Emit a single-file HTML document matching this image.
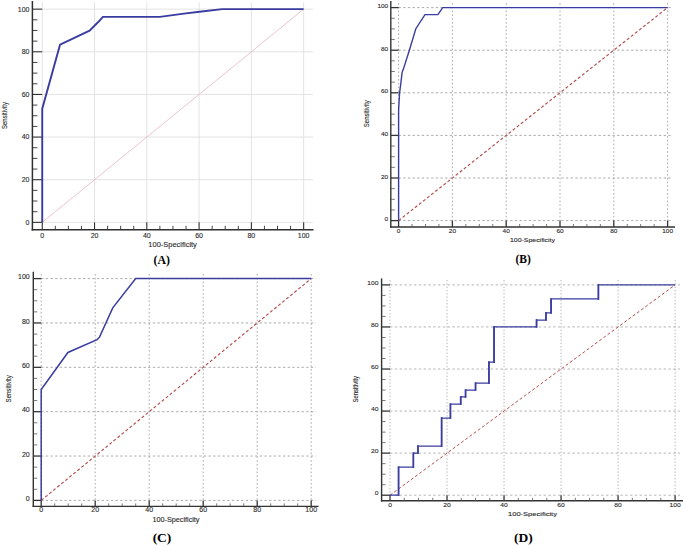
<!DOCTYPE html>
<html><head><meta charset="utf-8"><title>ROC curves</title>
<style>
html,body{margin:0;padding:0;background:#fff;}
body{width:685px;height:545px;overflow:hidden;}
svg{display:block;font-family:"Liberation Sans", sans-serif;}
text{stroke:#333;stroke-width:0.12px;paint-order:stroke;}
text.lab{stroke:none;}
</style></head>
<body>
<svg width="685" height="545" viewBox="0 0 685 545">
<rect width="685" height="545" fill="#fff"/>
<line x1="42.25" y1="222.35" x2="313" y2="222.35" stroke="#e0e0e0" stroke-width="0.9"/>
<line x1="42.25" y1="2.3" x2="42.25" y2="222.35" stroke="#e0e0e0" stroke-width="0.9"/>
<line x1="42.25" y1="179.71" x2="313" y2="179.71" stroke="#e0e0e0" stroke-width="0.9"/>
<line x1="94.53" y1="2.3" x2="94.53" y2="222.35" stroke="#e0e0e0" stroke-width="0.9"/>
<line x1="42.25" y1="137.07" x2="313" y2="137.07" stroke="#e0e0e0" stroke-width="0.9"/>
<line x1="146.81" y1="2.3" x2="146.81" y2="222.35" stroke="#e0e0e0" stroke-width="0.9"/>
<line x1="42.25" y1="94.43" x2="313" y2="94.43" stroke="#e0e0e0" stroke-width="0.9"/>
<line x1="199.09" y1="2.3" x2="199.09" y2="222.35" stroke="#e0e0e0" stroke-width="0.9"/>
<line x1="42.25" y1="51.79" x2="313" y2="51.79" stroke="#e0e0e0" stroke-width="0.9"/>
<line x1="251.37" y1="2.3" x2="251.37" y2="222.35" stroke="#e0e0e0" stroke-width="0.9"/>
<line x1="42.25" y1="9.15" x2="313" y2="9.15" stroke="#e0e0e0" stroke-width="0.9"/>
<line x1="303.65" y1="2.3" x2="303.65" y2="222.35" stroke="#e0e0e0" stroke-width="0.9"/>
<line x1="42.25" y1="222.35" x2="303.65" y2="9.15" stroke="#e6b6bc" stroke-width="0.8"/>
<line x1="32.4" y1="1" x2="32.4" y2="230.55" stroke="#2f2f2f" stroke-width="1.5"/>
<line x1="31.65" y1="229.8" x2="313.5" y2="229.8" stroke="#2f2f2f" stroke-width="1.5"/>
<line x1="32.4" y1="222.35" x2="42.25" y2="222.35" stroke="#2f2f2f" stroke-width="1.1"/>
<line x1="42.25" y1="229.8" x2="42.25" y2="222.35" stroke="#2f2f2f" stroke-width="1.1"/>
<line x1="32.4" y1="211.69" x2="37.4" y2="211.69" stroke="#2f2f2f" stroke-width="0.9"/>
<line x1="55.32" y1="229.8" x2="55.32" y2="225.8" stroke="#2f2f2f" stroke-width="0.9"/>
<line x1="32.4" y1="201.03" x2="37.4" y2="201.03" stroke="#2f2f2f" stroke-width="0.9"/>
<line x1="68.39" y1="229.8" x2="68.39" y2="225.8" stroke="#2f2f2f" stroke-width="0.9"/>
<line x1="32.4" y1="190.37" x2="37.4" y2="190.37" stroke="#2f2f2f" stroke-width="0.9"/>
<line x1="81.46" y1="229.8" x2="81.46" y2="225.8" stroke="#2f2f2f" stroke-width="0.9"/>
<line x1="32.4" y1="179.71" x2="42.25" y2="179.71" stroke="#2f2f2f" stroke-width="1.1"/>
<line x1="94.53" y1="229.8" x2="94.53" y2="222.35" stroke="#2f2f2f" stroke-width="1.1"/>
<line x1="32.4" y1="169.05" x2="37.4" y2="169.05" stroke="#2f2f2f" stroke-width="0.9"/>
<line x1="107.6" y1="229.8" x2="107.6" y2="225.8" stroke="#2f2f2f" stroke-width="0.9"/>
<line x1="32.4" y1="158.39" x2="37.4" y2="158.39" stroke="#2f2f2f" stroke-width="0.9"/>
<line x1="120.67" y1="229.8" x2="120.67" y2="225.8" stroke="#2f2f2f" stroke-width="0.9"/>
<line x1="32.4" y1="147.73" x2="37.4" y2="147.73" stroke="#2f2f2f" stroke-width="0.9"/>
<line x1="133.74" y1="229.8" x2="133.74" y2="225.8" stroke="#2f2f2f" stroke-width="0.9"/>
<line x1="32.4" y1="137.07" x2="42.25" y2="137.07" stroke="#2f2f2f" stroke-width="1.1"/>
<line x1="146.81" y1="229.8" x2="146.81" y2="222.35" stroke="#2f2f2f" stroke-width="1.1"/>
<line x1="32.4" y1="126.41" x2="37.4" y2="126.41" stroke="#2f2f2f" stroke-width="0.9"/>
<line x1="159.88" y1="229.8" x2="159.88" y2="225.8" stroke="#2f2f2f" stroke-width="0.9"/>
<line x1="32.4" y1="115.75" x2="37.4" y2="115.75" stroke="#2f2f2f" stroke-width="0.9"/>
<line x1="172.95" y1="229.8" x2="172.95" y2="225.8" stroke="#2f2f2f" stroke-width="0.9"/>
<line x1="32.4" y1="105.09" x2="37.4" y2="105.09" stroke="#2f2f2f" stroke-width="0.9"/>
<line x1="186.02" y1="229.8" x2="186.02" y2="225.8" stroke="#2f2f2f" stroke-width="0.9"/>
<line x1="32.4" y1="94.43" x2="42.25" y2="94.43" stroke="#2f2f2f" stroke-width="1.1"/>
<line x1="199.09" y1="229.8" x2="199.09" y2="222.35" stroke="#2f2f2f" stroke-width="1.1"/>
<line x1="32.4" y1="83.77" x2="37.4" y2="83.77" stroke="#2f2f2f" stroke-width="0.9"/>
<line x1="212.16" y1="229.8" x2="212.16" y2="225.8" stroke="#2f2f2f" stroke-width="0.9"/>
<line x1="32.4" y1="73.11" x2="37.4" y2="73.11" stroke="#2f2f2f" stroke-width="0.9"/>
<line x1="225.23" y1="229.8" x2="225.23" y2="225.8" stroke="#2f2f2f" stroke-width="0.9"/>
<line x1="32.4" y1="62.45" x2="37.4" y2="62.45" stroke="#2f2f2f" stroke-width="0.9"/>
<line x1="238.3" y1="229.8" x2="238.3" y2="225.8" stroke="#2f2f2f" stroke-width="0.9"/>
<line x1="32.4" y1="51.79" x2="42.25" y2="51.79" stroke="#2f2f2f" stroke-width="1.1"/>
<line x1="251.37" y1="229.8" x2="251.37" y2="222.35" stroke="#2f2f2f" stroke-width="1.1"/>
<line x1="32.4" y1="41.13" x2="37.4" y2="41.13" stroke="#2f2f2f" stroke-width="0.9"/>
<line x1="264.44" y1="229.8" x2="264.44" y2="225.8" stroke="#2f2f2f" stroke-width="0.9"/>
<line x1="32.4" y1="30.47" x2="37.4" y2="30.47" stroke="#2f2f2f" stroke-width="0.9"/>
<line x1="277.51" y1="229.8" x2="277.51" y2="225.8" stroke="#2f2f2f" stroke-width="0.9"/>
<line x1="32.4" y1="19.81" x2="37.4" y2="19.81" stroke="#2f2f2f" stroke-width="0.9"/>
<line x1="290.58" y1="229.8" x2="290.58" y2="225.8" stroke="#2f2f2f" stroke-width="0.9"/>
<line x1="32.4" y1="9.15" x2="42.25" y2="9.15" stroke="#2f2f2f" stroke-width="1.1"/>
<line x1="303.65" y1="229.8" x2="303.65" y2="222.35" stroke="#2f2f2f" stroke-width="1.1"/>
<polyline points="42.25,222.35 42.25,108.71 60.03,44.75 89.56,30.68 98.71,21.52 102.89,16.83 159.88,16.83 183.93,13.63 199.61,11.71 222.09,9.15 303.65,9.15" fill="none" stroke="#3a3d9f" stroke-width="1.9" stroke-linejoin="miter" stroke-linecap="butt"/>
<text transform="translate(29.5 224.75) scale(1 1)" text-anchor="end" font-size="7" fill="#2a2a2a">0</text>
<text transform="translate(42.25 238.2) scale(1 1)" text-anchor="middle" font-size="7" fill="#2a2a2a">0</text>
<text transform="translate(29.5 182.11) scale(1 1)" text-anchor="end" font-size="7" fill="#2a2a2a">20</text>
<text transform="translate(94.53 238.2) scale(1 1)" text-anchor="middle" font-size="7" fill="#2a2a2a">20</text>
<text transform="translate(29.5 139.47) scale(1 1)" text-anchor="end" font-size="7" fill="#2a2a2a">40</text>
<text transform="translate(146.81 238.2) scale(1 1)" text-anchor="middle" font-size="7" fill="#2a2a2a">40</text>
<text transform="translate(29.5 96.83) scale(1 1)" text-anchor="end" font-size="7" fill="#2a2a2a">60</text>
<text transform="translate(199.09 238.2) scale(1 1)" text-anchor="middle" font-size="7" fill="#2a2a2a">60</text>
<text transform="translate(29.5 54.19) scale(1 1)" text-anchor="end" font-size="7" fill="#2a2a2a">80</text>
<text transform="translate(251.37 238.2) scale(1 1)" text-anchor="middle" font-size="7" fill="#2a2a2a">80</text>
<text transform="translate(29.5 11.55) scale(1 1)" text-anchor="end" font-size="7" fill="#2a2a2a">100</text>
<text transform="translate(303.65 238.2) scale(1 1)" text-anchor="middle" font-size="7" fill="#2a2a2a">100</text>
<text x="172.6" y="246.8" text-anchor="middle" font-size="7" fill="#2a2a2a" textLength="48.5" lengthAdjust="spacingAndGlyphs">100-Specificity</text>
<text transform="translate(7.1 115.5) rotate(-90)" text-anchor="middle" font-size="7.5" fill="#2a2a2a" textLength="27" lengthAdjust="spacingAndGlyphs">Sensitivity</text>
<text class="lab" x="161.8" y="263.6" text-anchor="middle" font-family='"Liberation Serif", serif' font-weight="bold" font-size="11.8" fill="#000">(A)</text>
<line x1="398.6" y1="220.6" x2="672" y2="220.6" stroke="#a0a0a0" stroke-width="0.9" stroke-dasharray="2.3 2.35"/>
<line x1="398.6" y1="3" x2="398.6" y2="220.6" stroke="#a0a0a0" stroke-width="0.9" stroke-dasharray="1.6 2.2"/>
<line x1="398.6" y1="178" x2="672" y2="178" stroke="#a0a0a0" stroke-width="0.9" stroke-dasharray="2.3 2.35"/>
<line x1="452.4" y1="3" x2="452.4" y2="220.6" stroke="#a0a0a0" stroke-width="0.9" stroke-dasharray="1.6 2.2"/>
<line x1="398.6" y1="135.4" x2="672" y2="135.4" stroke="#a0a0a0" stroke-width="0.9" stroke-dasharray="2.3 2.35"/>
<line x1="506.2" y1="3" x2="506.2" y2="220.6" stroke="#a0a0a0" stroke-width="0.9" stroke-dasharray="1.6 2.2"/>
<line x1="398.6" y1="92.8" x2="672" y2="92.8" stroke="#a0a0a0" stroke-width="0.9" stroke-dasharray="2.3 2.35"/>
<line x1="560" y1="3" x2="560" y2="220.6" stroke="#a0a0a0" stroke-width="0.9" stroke-dasharray="1.6 2.2"/>
<line x1="398.6" y1="50.2" x2="672" y2="50.2" stroke="#a0a0a0" stroke-width="0.9" stroke-dasharray="2.3 2.35"/>
<line x1="613.8" y1="3" x2="613.8" y2="220.6" stroke="#a0a0a0" stroke-width="0.9" stroke-dasharray="1.6 2.2"/>
<line x1="398.6" y1="7.6" x2="672" y2="7.6" stroke="#a0a0a0" stroke-width="0.9" stroke-dasharray="2.3 2.35"/>
<line x1="667.6" y1="3" x2="667.6" y2="220.6" stroke="#a0a0a0" stroke-width="0.9" stroke-dasharray="1.6 2.2"/>
<line x1="398.6" y1="220.6" x2="667.6" y2="7.6" stroke="#b44c4c" stroke-width="1.15" stroke-dasharray="3 2.2"/>
<line x1="390.8" y1="1" x2="390.8" y2="227.7" stroke="#333" stroke-width="1.4"/>
<line x1="390.1" y1="227" x2="675" y2="227" stroke="#333" stroke-width="1.4"/>
<line x1="390.8" y1="220.6" x2="398.6" y2="220.6" stroke="#333" stroke-width="1.3"/>
<line x1="398.6" y1="227" x2="398.6" y2="220.6" stroke="#333" stroke-width="1.3"/>
<line x1="390.8" y1="209.95" x2="394.8" y2="209.95" stroke="#555" stroke-width="0.8"/>
<line x1="412.05" y1="227" x2="412.05" y2="224" stroke="#555" stroke-width="0.8"/>
<line x1="390.8" y1="199.3" x2="394.8" y2="199.3" stroke="#555" stroke-width="0.8"/>
<line x1="425.5" y1="227" x2="425.5" y2="224" stroke="#555" stroke-width="0.8"/>
<line x1="390.8" y1="188.65" x2="394.8" y2="188.65" stroke="#555" stroke-width="0.8"/>
<line x1="438.95" y1="227" x2="438.95" y2="224" stroke="#555" stroke-width="0.8"/>
<line x1="390.8" y1="178" x2="398.6" y2="178" stroke="#333" stroke-width="1.3"/>
<line x1="452.4" y1="227" x2="452.4" y2="220.6" stroke="#333" stroke-width="1.3"/>
<line x1="390.8" y1="167.35" x2="394.8" y2="167.35" stroke="#555" stroke-width="0.8"/>
<line x1="465.85" y1="227" x2="465.85" y2="224" stroke="#555" stroke-width="0.8"/>
<line x1="390.8" y1="156.7" x2="394.8" y2="156.7" stroke="#555" stroke-width="0.8"/>
<line x1="479.3" y1="227" x2="479.3" y2="224" stroke="#555" stroke-width="0.8"/>
<line x1="390.8" y1="146.05" x2="394.8" y2="146.05" stroke="#555" stroke-width="0.8"/>
<line x1="492.75" y1="227" x2="492.75" y2="224" stroke="#555" stroke-width="0.8"/>
<line x1="390.8" y1="135.4" x2="398.6" y2="135.4" stroke="#333" stroke-width="1.3"/>
<line x1="506.2" y1="227" x2="506.2" y2="220.6" stroke="#333" stroke-width="1.3"/>
<line x1="390.8" y1="124.75" x2="394.8" y2="124.75" stroke="#555" stroke-width="0.8"/>
<line x1="519.65" y1="227" x2="519.65" y2="224" stroke="#555" stroke-width="0.8"/>
<line x1="390.8" y1="114.1" x2="394.8" y2="114.1" stroke="#555" stroke-width="0.8"/>
<line x1="533.1" y1="227" x2="533.1" y2="224" stroke="#555" stroke-width="0.8"/>
<line x1="390.8" y1="103.45" x2="394.8" y2="103.45" stroke="#555" stroke-width="0.8"/>
<line x1="546.55" y1="227" x2="546.55" y2="224" stroke="#555" stroke-width="0.8"/>
<line x1="390.8" y1="92.8" x2="398.6" y2="92.8" stroke="#333" stroke-width="1.3"/>
<line x1="560" y1="227" x2="560" y2="220.6" stroke="#333" stroke-width="1.3"/>
<line x1="390.8" y1="82.15" x2="394.8" y2="82.15" stroke="#555" stroke-width="0.8"/>
<line x1="573.45" y1="227" x2="573.45" y2="224" stroke="#555" stroke-width="0.8"/>
<line x1="390.8" y1="71.5" x2="394.8" y2="71.5" stroke="#555" stroke-width="0.8"/>
<line x1="586.9" y1="227" x2="586.9" y2="224" stroke="#555" stroke-width="0.8"/>
<line x1="390.8" y1="60.85" x2="394.8" y2="60.85" stroke="#555" stroke-width="0.8"/>
<line x1="600.35" y1="227" x2="600.35" y2="224" stroke="#555" stroke-width="0.8"/>
<line x1="390.8" y1="50.2" x2="398.6" y2="50.2" stroke="#333" stroke-width="1.3"/>
<line x1="613.8" y1="227" x2="613.8" y2="220.6" stroke="#333" stroke-width="1.3"/>
<line x1="390.8" y1="39.55" x2="394.8" y2="39.55" stroke="#555" stroke-width="0.8"/>
<line x1="627.25" y1="227" x2="627.25" y2="224" stroke="#555" stroke-width="0.8"/>
<line x1="390.8" y1="28.9" x2="394.8" y2="28.9" stroke="#555" stroke-width="0.8"/>
<line x1="640.7" y1="227" x2="640.7" y2="224" stroke="#555" stroke-width="0.8"/>
<line x1="390.8" y1="18.25" x2="394.8" y2="18.25" stroke="#555" stroke-width="0.8"/>
<line x1="654.15" y1="227" x2="654.15" y2="224" stroke="#555" stroke-width="0.8"/>
<line x1="390.8" y1="7.6" x2="398.6" y2="7.6" stroke="#333" stroke-width="1.3"/>
<line x1="667.6" y1="227" x2="667.6" y2="220.6" stroke="#333" stroke-width="1.3"/>
<polyline points="398.6,220.6 398.6,109.84 399.6,92.8 400.91,82.58 402.1,72.35 403.31,69.37 409.36,50.2 415.82,28.69 424.96,14.63 437.87,14.63 442.72,7.6 667.6,7.6" fill="none" stroke="#3a3d9f" stroke-width="1.4" stroke-linejoin="miter" stroke-linecap="butt"/>
<text transform="translate(388.2 221.2) scale(1.08 1)" text-anchor="end" font-size="6" fill="#2a2a2a">0</text>
<text transform="translate(398.6 233.2) scale(1.08 1)" text-anchor="middle" font-size="6" fill="#2a2a2a">0</text>
<text transform="translate(388.2 178.6) scale(1.08 1)" text-anchor="end" font-size="6" fill="#2a2a2a">20</text>
<text transform="translate(452.4 233.2) scale(1.08 1)" text-anchor="middle" font-size="6" fill="#2a2a2a">20</text>
<text transform="translate(388.2 136) scale(1.08 1)" text-anchor="end" font-size="6" fill="#2a2a2a">40</text>
<text transform="translate(506.2 233.2) scale(1.08 1)" text-anchor="middle" font-size="6" fill="#2a2a2a">40</text>
<text transform="translate(388.2 93.4) scale(1.08 1)" text-anchor="end" font-size="6" fill="#2a2a2a">60</text>
<text transform="translate(560 233.2) scale(1.08 1)" text-anchor="middle" font-size="6" fill="#2a2a2a">60</text>
<text transform="translate(388.2 50.8) scale(1.08 1)" text-anchor="end" font-size="6" fill="#2a2a2a">80</text>
<text transform="translate(613.8 233.2) scale(1.08 1)" text-anchor="middle" font-size="6" fill="#2a2a2a">80</text>
<text transform="translate(388.2 8.2) scale(1.08 1)" text-anchor="end" font-size="6" fill="#2a2a2a">100</text>
<text transform="translate(667.6 233.2) scale(1.08 1)" text-anchor="middle" font-size="6" fill="#2a2a2a">100</text>
<text x="532.5" y="242" text-anchor="middle" font-size="6" fill="#2a2a2a" textLength="45" lengthAdjust="spacingAndGlyphs">100-Specificity</text>
<text transform="translate(369.3 113.7) rotate(-90)" text-anchor="middle" font-size="7.5" fill="#2a2a2a" textLength="27" lengthAdjust="spacingAndGlyphs">Sensitivity</text>
<text class="lab" x="523.2" y="263.4" text-anchor="middle" font-family='"Liberation Serif", serif' font-weight="bold" font-size="11.5" fill="#000">(B)</text>
<line x1="41.2" y1="500.4" x2="316" y2="500.4" stroke="#a0a0a0" stroke-width="0.9" stroke-dasharray="2.3 2.35"/>
<line x1="41.2" y1="274" x2="41.2" y2="500.4" stroke="#a0a0a0" stroke-width="0.9" stroke-dasharray="1.6 2.2"/>
<line x1="41.2" y1="456.04" x2="316" y2="456.04" stroke="#a0a0a0" stroke-width="0.9" stroke-dasharray="2.3 2.35"/>
<line x1="95.2" y1="274" x2="95.2" y2="500.4" stroke="#a0a0a0" stroke-width="0.9" stroke-dasharray="1.6 2.2"/>
<line x1="41.2" y1="411.68" x2="316" y2="411.68" stroke="#a0a0a0" stroke-width="0.9" stroke-dasharray="2.3 2.35"/>
<line x1="149.2" y1="274" x2="149.2" y2="500.4" stroke="#a0a0a0" stroke-width="0.9" stroke-dasharray="1.6 2.2"/>
<line x1="41.2" y1="367.32" x2="316" y2="367.32" stroke="#a0a0a0" stroke-width="0.9" stroke-dasharray="2.3 2.35"/>
<line x1="203.2" y1="274" x2="203.2" y2="500.4" stroke="#a0a0a0" stroke-width="0.9" stroke-dasharray="1.6 2.2"/>
<line x1="41.2" y1="322.96" x2="316" y2="322.96" stroke="#a0a0a0" stroke-width="0.9" stroke-dasharray="2.3 2.35"/>
<line x1="257.2" y1="274" x2="257.2" y2="500.4" stroke="#a0a0a0" stroke-width="0.9" stroke-dasharray="1.6 2.2"/>
<line x1="41.2" y1="278.6" x2="316" y2="278.6" stroke="#a0a0a0" stroke-width="0.9" stroke-dasharray="2.3 2.35"/>
<line x1="311.2" y1="274" x2="311.2" y2="500.4" stroke="#a0a0a0" stroke-width="0.9" stroke-dasharray="1.6 2.2"/>
<line x1="41.2" y1="500.4" x2="311.2" y2="278.6" stroke="#b44c4c" stroke-width="1.15" stroke-dasharray="3 2.2"/>
<line x1="33.3" y1="271.8" x2="33.3" y2="507.1" stroke="#333" stroke-width="1.4"/>
<line x1="32.6" y1="506.4" x2="318.5" y2="506.4" stroke="#333" stroke-width="1.4"/>
<line x1="33.3" y1="500.4" x2="41.2" y2="500.4" stroke="#333" stroke-width="1.3"/>
<line x1="41.2" y1="506.4" x2="41.2" y2="500.4" stroke="#333" stroke-width="1.3"/>
<line x1="33.3" y1="489.31" x2="37.3" y2="489.31" stroke="#555" stroke-width="0.8"/>
<line x1="54.7" y1="506.4" x2="54.7" y2="503.4" stroke="#555" stroke-width="0.8"/>
<line x1="33.3" y1="478.22" x2="37.3" y2="478.22" stroke="#555" stroke-width="0.8"/>
<line x1="68.2" y1="506.4" x2="68.2" y2="503.4" stroke="#555" stroke-width="0.8"/>
<line x1="33.3" y1="467.13" x2="37.3" y2="467.13" stroke="#555" stroke-width="0.8"/>
<line x1="81.7" y1="506.4" x2="81.7" y2="503.4" stroke="#555" stroke-width="0.8"/>
<line x1="33.3" y1="456.04" x2="41.2" y2="456.04" stroke="#333" stroke-width="1.3"/>
<line x1="95.2" y1="506.4" x2="95.2" y2="500.4" stroke="#333" stroke-width="1.3"/>
<line x1="33.3" y1="444.95" x2="37.3" y2="444.95" stroke="#555" stroke-width="0.8"/>
<line x1="108.7" y1="506.4" x2="108.7" y2="503.4" stroke="#555" stroke-width="0.8"/>
<line x1="33.3" y1="433.86" x2="37.3" y2="433.86" stroke="#555" stroke-width="0.8"/>
<line x1="122.2" y1="506.4" x2="122.2" y2="503.4" stroke="#555" stroke-width="0.8"/>
<line x1="33.3" y1="422.77" x2="37.3" y2="422.77" stroke="#555" stroke-width="0.8"/>
<line x1="135.7" y1="506.4" x2="135.7" y2="503.4" stroke="#555" stroke-width="0.8"/>
<line x1="33.3" y1="411.68" x2="41.2" y2="411.68" stroke="#333" stroke-width="1.3"/>
<line x1="149.2" y1="506.4" x2="149.2" y2="500.4" stroke="#333" stroke-width="1.3"/>
<line x1="33.3" y1="400.59" x2="37.3" y2="400.59" stroke="#555" stroke-width="0.8"/>
<line x1="162.7" y1="506.4" x2="162.7" y2="503.4" stroke="#555" stroke-width="0.8"/>
<line x1="33.3" y1="389.5" x2="37.3" y2="389.5" stroke="#555" stroke-width="0.8"/>
<line x1="176.2" y1="506.4" x2="176.2" y2="503.4" stroke="#555" stroke-width="0.8"/>
<line x1="33.3" y1="378.41" x2="37.3" y2="378.41" stroke="#555" stroke-width="0.8"/>
<line x1="189.7" y1="506.4" x2="189.7" y2="503.4" stroke="#555" stroke-width="0.8"/>
<line x1="33.3" y1="367.32" x2="41.2" y2="367.32" stroke="#333" stroke-width="1.3"/>
<line x1="203.2" y1="506.4" x2="203.2" y2="500.4" stroke="#333" stroke-width="1.3"/>
<line x1="33.3" y1="356.23" x2="37.3" y2="356.23" stroke="#555" stroke-width="0.8"/>
<line x1="216.7" y1="506.4" x2="216.7" y2="503.4" stroke="#555" stroke-width="0.8"/>
<line x1="33.3" y1="345.14" x2="37.3" y2="345.14" stroke="#555" stroke-width="0.8"/>
<line x1="230.2" y1="506.4" x2="230.2" y2="503.4" stroke="#555" stroke-width="0.8"/>
<line x1="33.3" y1="334.05" x2="37.3" y2="334.05" stroke="#555" stroke-width="0.8"/>
<line x1="243.7" y1="506.4" x2="243.7" y2="503.4" stroke="#555" stroke-width="0.8"/>
<line x1="33.3" y1="322.96" x2="41.2" y2="322.96" stroke="#333" stroke-width="1.3"/>
<line x1="257.2" y1="506.4" x2="257.2" y2="500.4" stroke="#333" stroke-width="1.3"/>
<line x1="33.3" y1="311.87" x2="37.3" y2="311.87" stroke="#555" stroke-width="0.8"/>
<line x1="270.7" y1="506.4" x2="270.7" y2="503.4" stroke="#555" stroke-width="0.8"/>
<line x1="33.3" y1="300.78" x2="37.3" y2="300.78" stroke="#555" stroke-width="0.8"/>
<line x1="284.2" y1="506.4" x2="284.2" y2="503.4" stroke="#555" stroke-width="0.8"/>
<line x1="33.3" y1="289.69" x2="37.3" y2="289.69" stroke="#555" stroke-width="0.8"/>
<line x1="297.7" y1="506.4" x2="297.7" y2="503.4" stroke="#555" stroke-width="0.8"/>
<line x1="33.3" y1="278.6" x2="41.2" y2="278.6" stroke="#333" stroke-width="1.3"/>
<line x1="311.2" y1="506.4" x2="311.2" y2="500.4" stroke="#333" stroke-width="1.3"/>
<polyline points="41.2,500.4 41.2,389.5 67.93,352.46 97.09,339.59 99.52,337.16 112.75,307.88 135.7,278.6 311.2,278.6" fill="none" stroke="#3a3d9f" stroke-width="1.5" stroke-linejoin="miter" stroke-linecap="butt"/>
<text transform="translate(29.7 501.2) scale(1 1)" text-anchor="end" font-size="7" fill="#2a2a2a">0</text>
<text transform="translate(41.2 512.4) scale(1 1)" text-anchor="middle" font-size="7" fill="#2a2a2a">0</text>
<text transform="translate(29.7 456.84) scale(1 1)" text-anchor="end" font-size="7" fill="#2a2a2a">20</text>
<text transform="translate(95.2 512.4) scale(1 1)" text-anchor="middle" font-size="7" fill="#2a2a2a">20</text>
<text transform="translate(29.7 412.48) scale(1 1)" text-anchor="end" font-size="7" fill="#2a2a2a">40</text>
<text transform="translate(149.2 512.4) scale(1 1)" text-anchor="middle" font-size="7" fill="#2a2a2a">40</text>
<text transform="translate(29.7 368.12) scale(1 1)" text-anchor="end" font-size="7" fill="#2a2a2a">60</text>
<text transform="translate(203.2 512.4) scale(1 1)" text-anchor="middle" font-size="7" fill="#2a2a2a">60</text>
<text transform="translate(29.7 323.76) scale(1 1)" text-anchor="end" font-size="7" fill="#2a2a2a">80</text>
<text transform="translate(257.2 512.4) scale(1 1)" text-anchor="middle" font-size="7" fill="#2a2a2a">80</text>
<text transform="translate(29.7 279.4) scale(1 1)" text-anchor="end" font-size="7" fill="#2a2a2a">100</text>
<text transform="translate(311.2 512.4) scale(1 1)" text-anchor="middle" font-size="7" fill="#2a2a2a">100</text>
<text x="176" y="522" text-anchor="middle" font-size="6.5" fill="#2a2a2a" textLength="47" lengthAdjust="spacingAndGlyphs">100-Specificity</text>
<text transform="translate(11 388.8) rotate(-90)" text-anchor="middle" font-size="7.5" fill="#2a2a2a" textLength="27.2" lengthAdjust="spacingAndGlyphs">Sensitivity</text>
<text class="lab" x="162" y="541.5" text-anchor="middle" font-family='"Liberation Serif", serif' font-weight="bold" font-size="13.5" fill="#000">(C)</text>
<line x1="390" y1="495.2" x2="680" y2="495.2" stroke="#adadad" stroke-width="0.9" stroke-dasharray="2.4 2.4"/>
<line x1="390" y1="280" x2="390" y2="495.2" stroke="#adadad" stroke-width="0.9" stroke-dasharray="1.4 1.9"/>
<line x1="390" y1="453.14" x2="680" y2="453.14" stroke="#adadad" stroke-width="0.9" stroke-dasharray="2.4 2.4"/>
<line x1="447.02" y1="280" x2="447.02" y2="495.2" stroke="#adadad" stroke-width="0.9" stroke-dasharray="1.4 1.9"/>
<line x1="390" y1="411.08" x2="680" y2="411.08" stroke="#adadad" stroke-width="0.9" stroke-dasharray="2.4 2.4"/>
<line x1="504.04" y1="280" x2="504.04" y2="495.2" stroke="#adadad" stroke-width="0.9" stroke-dasharray="1.4 1.9"/>
<line x1="390" y1="369.02" x2="680" y2="369.02" stroke="#adadad" stroke-width="0.9" stroke-dasharray="2.4 2.4"/>
<line x1="561.06" y1="280" x2="561.06" y2="495.2" stroke="#adadad" stroke-width="0.9" stroke-dasharray="1.4 1.9"/>
<line x1="390" y1="326.96" x2="680" y2="326.96" stroke="#adadad" stroke-width="0.9" stroke-dasharray="2.4 2.4"/>
<line x1="618.08" y1="280" x2="618.08" y2="495.2" stroke="#adadad" stroke-width="0.9" stroke-dasharray="1.4 1.9"/>
<line x1="390" y1="284.9" x2="680" y2="284.9" stroke="#adadad" stroke-width="0.9" stroke-dasharray="2.4 2.4"/>
<line x1="675.1" y1="280" x2="675.1" y2="495.2" stroke="#adadad" stroke-width="0.9" stroke-dasharray="1.4 1.9"/>
<line x1="390" y1="495.2" x2="675.1" y2="284.9" stroke="#b85050" stroke-width="1.0" stroke-dasharray="3 2.2"/>
<line x1="381.6" y1="278.4" x2="381.6" y2="501.5" stroke="#333" stroke-width="1.4"/>
<line x1="380.9" y1="500.8" x2="683" y2="500.8" stroke="#333" stroke-width="1.4"/>
<line x1="381.6" y1="495.2" x2="390" y2="495.2" stroke="#333" stroke-width="1.3"/>
<line x1="390" y1="500.8" x2="390" y2="495.2" stroke="#333" stroke-width="1.3"/>
<line x1="381.6" y1="484.69" x2="385.6" y2="484.69" stroke="#555" stroke-width="0.8"/>
<line x1="404.25" y1="500.8" x2="404.25" y2="497.8" stroke="#555" stroke-width="0.8"/>
<line x1="381.6" y1="474.17" x2="385.6" y2="474.17" stroke="#555" stroke-width="0.8"/>
<line x1="418.51" y1="500.8" x2="418.51" y2="497.8" stroke="#555" stroke-width="0.8"/>
<line x1="381.6" y1="463.65" x2="385.6" y2="463.65" stroke="#555" stroke-width="0.8"/>
<line x1="432.76" y1="500.8" x2="432.76" y2="497.8" stroke="#555" stroke-width="0.8"/>
<line x1="381.6" y1="453.14" x2="390" y2="453.14" stroke="#333" stroke-width="1.3"/>
<line x1="447.02" y1="500.8" x2="447.02" y2="495.2" stroke="#333" stroke-width="1.3"/>
<line x1="381.6" y1="442.62" x2="385.6" y2="442.62" stroke="#555" stroke-width="0.8"/>
<line x1="461.27" y1="500.8" x2="461.27" y2="497.8" stroke="#555" stroke-width="0.8"/>
<line x1="381.6" y1="432.11" x2="385.6" y2="432.11" stroke="#555" stroke-width="0.8"/>
<line x1="475.53" y1="500.8" x2="475.53" y2="497.8" stroke="#555" stroke-width="0.8"/>
<line x1="381.6" y1="421.59" x2="385.6" y2="421.59" stroke="#555" stroke-width="0.8"/>
<line x1="489.78" y1="500.8" x2="489.78" y2="497.8" stroke="#555" stroke-width="0.8"/>
<line x1="381.6" y1="411.08" x2="390" y2="411.08" stroke="#333" stroke-width="1.3"/>
<line x1="504.04" y1="500.8" x2="504.04" y2="495.2" stroke="#333" stroke-width="1.3"/>
<line x1="381.6" y1="400.56" x2="385.6" y2="400.56" stroke="#555" stroke-width="0.8"/>
<line x1="518.29" y1="500.8" x2="518.29" y2="497.8" stroke="#555" stroke-width="0.8"/>
<line x1="381.6" y1="390.05" x2="385.6" y2="390.05" stroke="#555" stroke-width="0.8"/>
<line x1="532.55" y1="500.8" x2="532.55" y2="497.8" stroke="#555" stroke-width="0.8"/>
<line x1="381.6" y1="379.53" x2="385.6" y2="379.53" stroke="#555" stroke-width="0.8"/>
<line x1="546.81" y1="500.8" x2="546.81" y2="497.8" stroke="#555" stroke-width="0.8"/>
<line x1="381.6" y1="369.02" x2="390" y2="369.02" stroke="#333" stroke-width="1.3"/>
<line x1="561.06" y1="500.8" x2="561.06" y2="495.2" stroke="#333" stroke-width="1.3"/>
<line x1="381.6" y1="358.5" x2="385.6" y2="358.5" stroke="#555" stroke-width="0.8"/>
<line x1="575.32" y1="500.8" x2="575.32" y2="497.8" stroke="#555" stroke-width="0.8"/>
<line x1="381.6" y1="347.99" x2="385.6" y2="347.99" stroke="#555" stroke-width="0.8"/>
<line x1="589.57" y1="500.8" x2="589.57" y2="497.8" stroke="#555" stroke-width="0.8"/>
<line x1="381.6" y1="337.47" x2="385.6" y2="337.47" stroke="#555" stroke-width="0.8"/>
<line x1="603.83" y1="500.8" x2="603.83" y2="497.8" stroke="#555" stroke-width="0.8"/>
<line x1="381.6" y1="326.96" x2="390" y2="326.96" stroke="#333" stroke-width="1.3"/>
<line x1="618.08" y1="500.8" x2="618.08" y2="495.2" stroke="#333" stroke-width="1.3"/>
<line x1="381.6" y1="316.44" x2="385.6" y2="316.44" stroke="#555" stroke-width="0.8"/>
<line x1="632.34" y1="500.8" x2="632.34" y2="497.8" stroke="#555" stroke-width="0.8"/>
<line x1="381.6" y1="305.93" x2="385.6" y2="305.93" stroke="#555" stroke-width="0.8"/>
<line x1="646.59" y1="500.8" x2="646.59" y2="497.8" stroke="#555" stroke-width="0.8"/>
<line x1="381.6" y1="295.41" x2="385.6" y2="295.41" stroke="#555" stroke-width="0.8"/>
<line x1="660.85" y1="500.8" x2="660.85" y2="497.8" stroke="#555" stroke-width="0.8"/>
<line x1="381.6" y1="284.9" x2="390" y2="284.9" stroke="#333" stroke-width="1.3"/>
<line x1="675.1" y1="500.8" x2="675.1" y2="495.2" stroke="#333" stroke-width="1.3"/>
<polyline points="390,495.2 398.55,495.2 398.55,467.23 413.38,467.23 413.38,453.14 417.94,453.14 417.94,446.2 441.6,446.2 441.6,418.02 450.44,418.02 450.44,404.14 460.7,404.14 460.7,396.99 465.55,396.99 465.55,390.05 475.53,390.05 475.53,383.11 488.93,383.11 488.93,362.08 494.06,362.08 494.06,326.96 536.54,326.96 536.54,320.02 545.95,320.02 545.95,312.87 551.08,312.87 551.08,298.99 598.41,298.99 598.41,284.9 675.1,284.9" fill="none" stroke="#3a3d9f" stroke-width="1.25" stroke-linejoin="miter" stroke-linecap="butt"/>
<line x1="398.55" y1="495.2" x2="398.55" y2="467.23" stroke="#3a3d9f" stroke-width="1.7" stroke-linecap="square"/>
<line x1="413.38" y1="467.23" x2="413.38" y2="453.14" stroke="#3a3d9f" stroke-width="1.7" stroke-linecap="square"/>
<line x1="417.94" y1="453.14" x2="417.94" y2="446.2" stroke="#3a3d9f" stroke-width="1.7" stroke-linecap="square"/>
<line x1="441.6" y1="446.2" x2="441.6" y2="418.02" stroke="#3a3d9f" stroke-width="1.7" stroke-linecap="square"/>
<line x1="450.44" y1="418.02" x2="450.44" y2="404.14" stroke="#3a3d9f" stroke-width="1.7" stroke-linecap="square"/>
<line x1="460.7" y1="404.14" x2="460.7" y2="396.99" stroke="#3a3d9f" stroke-width="1.7" stroke-linecap="square"/>
<line x1="465.55" y1="396.99" x2="465.55" y2="390.05" stroke="#3a3d9f" stroke-width="1.7" stroke-linecap="square"/>
<line x1="475.53" y1="390.05" x2="475.53" y2="383.11" stroke="#3a3d9f" stroke-width="1.7" stroke-linecap="square"/>
<line x1="488.93" y1="383.11" x2="488.93" y2="362.08" stroke="#3a3d9f" stroke-width="1.7" stroke-linecap="square"/>
<line x1="494.06" y1="362.08" x2="494.06" y2="326.96" stroke="#3a3d9f" stroke-width="1.7" stroke-linecap="square"/>
<line x1="536.54" y1="326.96" x2="536.54" y2="320.02" stroke="#3a3d9f" stroke-width="1.7" stroke-linecap="square"/>
<line x1="545.95" y1="320.02" x2="545.95" y2="312.87" stroke="#3a3d9f" stroke-width="1.7" stroke-linecap="square"/>
<line x1="551.08" y1="312.87" x2="551.08" y2="298.99" stroke="#3a3d9f" stroke-width="1.7" stroke-linecap="square"/>
<line x1="598.41" y1="298.99" x2="598.41" y2="284.9" stroke="#3a3d9f" stroke-width="1.7" stroke-linecap="square"/>
<text transform="translate(378.4 495.3) scale(1.12 1)" text-anchor="end" font-size="6" fill="#2a2a2a">0</text>
<text transform="translate(390 506.9) scale(1.12 1)" text-anchor="middle" font-size="6" fill="#2a2a2a">0</text>
<text transform="translate(378.4 453.24) scale(1.12 1)" text-anchor="end" font-size="6" fill="#2a2a2a">20</text>
<text transform="translate(447.02 506.9) scale(1.12 1)" text-anchor="middle" font-size="6" fill="#2a2a2a">20</text>
<text transform="translate(378.4 411.18) scale(1.12 1)" text-anchor="end" font-size="6" fill="#2a2a2a">40</text>
<text transform="translate(504.04 506.9) scale(1.12 1)" text-anchor="middle" font-size="6" fill="#2a2a2a">40</text>
<text transform="translate(378.4 369.12) scale(1.12 1)" text-anchor="end" font-size="6" fill="#2a2a2a">60</text>
<text transform="translate(561.06 506.9) scale(1.12 1)" text-anchor="middle" font-size="6" fill="#2a2a2a">60</text>
<text transform="translate(378.4 327.06) scale(1.12 1)" text-anchor="end" font-size="6" fill="#2a2a2a">80</text>
<text transform="translate(618.08 506.9) scale(1.12 1)" text-anchor="middle" font-size="6" fill="#2a2a2a">80</text>
<text transform="translate(378.4 285) scale(1.12 1)" text-anchor="end" font-size="6" fill="#2a2a2a">100</text>
<text transform="translate(675.1 506.9) scale(1.12 1)" text-anchor="middle" font-size="6" fill="#2a2a2a">100</text>
<text x="532.5" y="516.2" text-anchor="middle" font-size="6" fill="#2a2a2a" textLength="49" lengthAdjust="spacingAndGlyphs">100-Specificity</text>
<text transform="translate(358 389.2) rotate(-90)" text-anchor="middle" font-size="7.5" fill="#2a2a2a" textLength="26.4" lengthAdjust="spacingAndGlyphs">Sensitivity</text>
<text class="lab" x="523.4" y="541.5" text-anchor="middle" font-family='"Liberation Serif", serif' font-weight="bold" font-size="13.5" fill="#000">(D)</text>
</svg>
</body></html>
